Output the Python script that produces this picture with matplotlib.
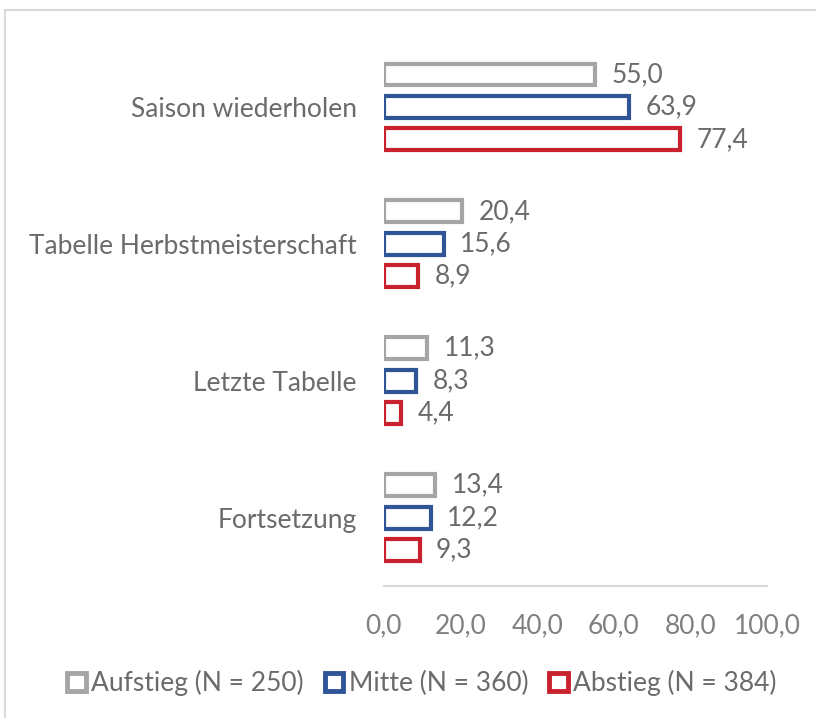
import numpy as np
import matplotlib.pyplot as plt
from matplotlib.patches import Patch, Rectangle

kategorien = ['Saison wiederholen', 'Tabelle Herbstmeisterschaft', 'Letzte Tabelle', 'Fortsetzung']
aufstieg = [55.0, 20.4, 11.3, 13.4]
mitte = [63.9, 15.6, 8.3, 12.2]
abstieg = [77.4, 8.9, 4.4, 9.3]
serien = ['Aufstieg (N = 250)', 'Mitte (N = 360)', 'Abstieg (N = 384)']
farben = ['#a5a5a5', '#2f5597', '#c9212e']
xticks = [0, 20, 40, 60, 80, 100]

plt.rcParams['font.family'] = ['Lato', 'DejaVu Sans']
textfarbe = '#6b6b6b'
gr = 19

fig = plt.figure(figsize=(8.16, 7.18), dpi=100)
ax = fig.add_axes([384 / 816, (718 - 586) / 718, (767 - 384) / 816, (586 - 38.5) / 718])

# Rahmen um das Diagramm
fig.patches.append(Rectangle((5 / 816, -0.1), 1.2, (718 - 10) / 718 + 0.1,
                             transform=fig.transFigure, fill=False,
                             edgecolor='#d9d9d9', linewidth=1.5))

y = np.arange(len(kategorien))
versatz = 0.237
hoehe = 0.16
for i, (werte, farbe) in enumerate(zip([aufstieg, mitte, abstieg], farben)):
    pos = y + (i - 1) * versatz
    ax.barh(pos, werte, height=hoehe, facecolor='white', edgecolor=farbe, linewidth=3)
    for p, w in zip(pos, werte):
        ax.text(w + 4.3, p, f'{w:.1f}'.replace('.', ','), va='center', ha='left',
                fontsize=gr, color=textfarbe)

ax.set_xlim(0, 100)
ax.set_ylim(3.5, -0.5)
ax.set_yticks(y)
ax.set_yticklabels(kategorien, fontsize=gr, color=textfarbe)
ax.set_xticks(xticks)
ax.set_xticklabels([f'{t:.1f}'.replace('.', ',') for t in xticks], fontsize=gr, color='#808080')
ax.tick_params(axis='both', length=0)
ax.tick_params(axis='y', pad=19.5)
ax.tick_params(axis='x', pad=20)
for s in ['top', 'right', 'left']:
    ax.spines[s].set_visible(False)
ax.spines['bottom'].set_color('#d9d9d9')
ax.spines['bottom'].set_linewidth(1.5)

handles = [Patch(facecolor='white', edgecolor=f, linewidth=3.5) for f in farben]
fig.legend(handles, serien, loc='center', bbox_to_anchor=(422 / 816, (718 - 683) / 718),
           ncol=3, frameon=False, fontsize=gr, labelcolor=textfarbe,
           handlelength=0.7, handleheight=0.7, handletextpad=0.2, columnspacing=0.8)

fig.savefig('out.png', dpi=100)
